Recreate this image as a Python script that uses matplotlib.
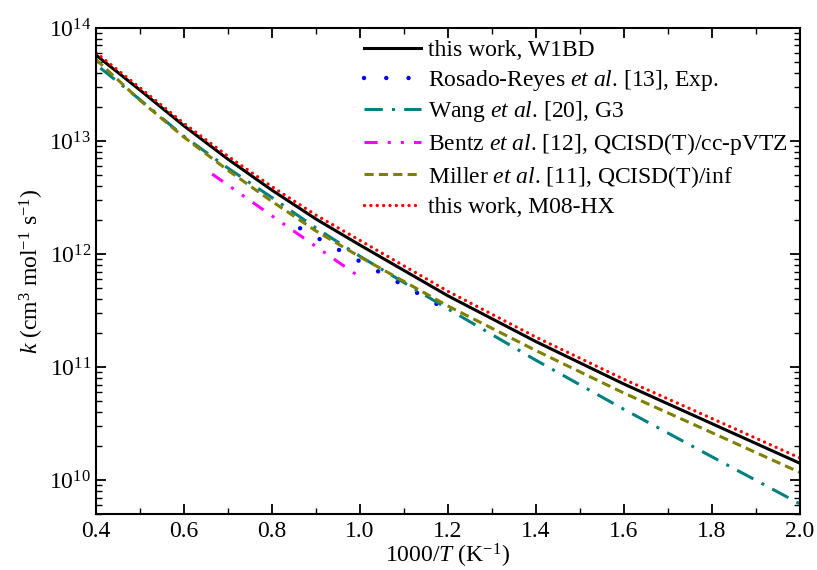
import numpy as np
import matplotlib
matplotlib.use('Agg')
import matplotlib.pyplot as plt
from matplotlib.ticker import LogLocator, MultipleLocator, NullFormatter

plt.rcParams['font.family'] = ['Liberation Serif', 'DejaVu Serif']
plt.rcParams['mathtext.fontset'] = 'custom'
plt.rcParams['mathtext.rm'] = 'Liberation Serif'
plt.rcParams['mathtext.it'] = 'Liberation Serif:italic'

# rate constants, x = 1000/T
x_w1bd = [0.4, 0.5, 0.6, 0.7, 0.8, 0.9, 1.0, 1.2, 1.4, 1.6, 1.8, 2.0]
k_w1bd = [5.75e13, 2.82e13, 1.36e13, 6.9e12, 3.67e12, 2.04e12, 1.20e12,
          4.27e11, 1.68e11, 7.08e10, 3.16e10, 1.41e10]

x_exp = [0.864, 0.95, 1.035, 1.119, 1.205]
k_exp = [1.69e12, 1.10e12, 7.24e11, 4.79e11, 3.09e11]

x_wang = [0.41, 0.5, 0.6, 0.7, 0.8, 0.9, 1.0, 1.2, 1.4, 1.6, 1.8, 2.0]
k_wang = [4.42e13, 2.32e13, 1.10e13, 5.75e12, 3.16e12, 1.70e12, 9.55e11,
          3.27e11, 1.15e11, 4.23e10, 1.61e10, 6.17e9]

x_bentz = [0.664, 0.866, 1.002]
k_bentz = [5.1e12, 1.44e12, 6.17e11]

x_miller = [0.4, 0.5, 0.6, 0.7, 0.8, 0.9, 1.0, 1.2, 1.4, 1.6, 1.8, 2.0]
k_miller = [5.25e13, 2.29e13, 1.08e13, 5.5e12, 2.92e12, 1.60e12, 9.44e11,
            3.47e11, 1.40e11, 5.89e10, 2.63e10, 1.17e10]

x_m08 = [0.4, 0.5, 0.6, 0.7, 0.8, 0.9, 1.0, 1.2, 1.4, 1.6, 1.8, 2.0]
k_m08 = [6.03e13, 2.95e13, 1.43e13, 7.33e12, 3.94e12, 2.21e12, 1.32e12,
         4.68e11, 1.84e11, 7.8e10, 3.51e10, 1.57e10]

fig = plt.figure(figsize=(8.17, 5.70), dpi=100)
ax = fig.add_axes([0.1175, 0.098, 0.8615, 0.853])

lw = 2.2
ax.plot(x_w1bd, k_w1bd, color='black', lw=lw, label='this work, W1BD')
ax.plot(x_exp, k_exp, color='blue', lw=3.2, dashes=(0.01, 5), dash_capstyle='round',
        label=r'Rosado-Reyes $\mathit{et\ al}$. [13], Exp.')
ax.plot(x_wang, k_wang, color='#008080', lw=lw, dashes=(6, 3, 1, 3),
        label=r'Wang $\mathit{et\ al}$. [20], G3')
ax.plot(x_bentz, k_bentz, color='magenta', lw=lw, dashes=(4.3, 3.3, 1, 3.3, 1, 3.3),
        label=r'Bentz $\mathit{et\ al}$. [12], QCISD(T)/cc-pVTZ')
ax.plot(x_miller, k_miller, color='#808000', lw=lw, dashes=(3, 1.7),
        label=r'Miller $\mathit{et\ al}$. [11], QCISD(T)/inf')
ax.plot(x_m08, k_m08, color='red', lw=2.4, dashes=(0.01, 1.9), dash_capstyle='round',
        label='this work, M08-HX')

ax.set_yscale('log')
ax.set_xlim(0.4, 2.0)
ax.set_ylim(5e9, 1e14)
ax.xaxis.set_major_locator(MultipleLocator(0.2))
ax.xaxis.set_minor_locator(MultipleLocator(0.1))
ax.yaxis.set_major_locator(LogLocator(base=10, numticks=10))
ax.yaxis.set_minor_locator(LogLocator(base=10, subs=np.arange(2, 10), numticks=20))
ax.yaxis.set_minor_formatter(NullFormatter())

ax.tick_params(which='both', direction='in', top=True, right=True, labelsize=17)
ax.tick_params(which='major', length=7, width=1.3)
ax.tick_params(which='minor', length=4, width=1.0)
ax.tick_params(axis='x', pad=5)
for s in ax.spines.values():
    s.set_linewidth(1.5)

ax.set_xlabel(r'1000/$\mathit{T}$ (K$^{-1}$)', fontsize=17, labelpad=0)
ax.set_ylabel(r'$\mathit{k}$ (cm$^{3}$ mol$^{-1}$ s$^{-1}$)', fontsize=17, labelpad=2)

ax.legend(loc='upper right', bbox_to_anchor=(1.0, 1.0), frameon=False, fontsize=17,
          handlelength=2.4, handletextpad=0.3, labelspacing=0.28, borderaxespad=0.1)

fig.savefig('out.png', dpi=100)
